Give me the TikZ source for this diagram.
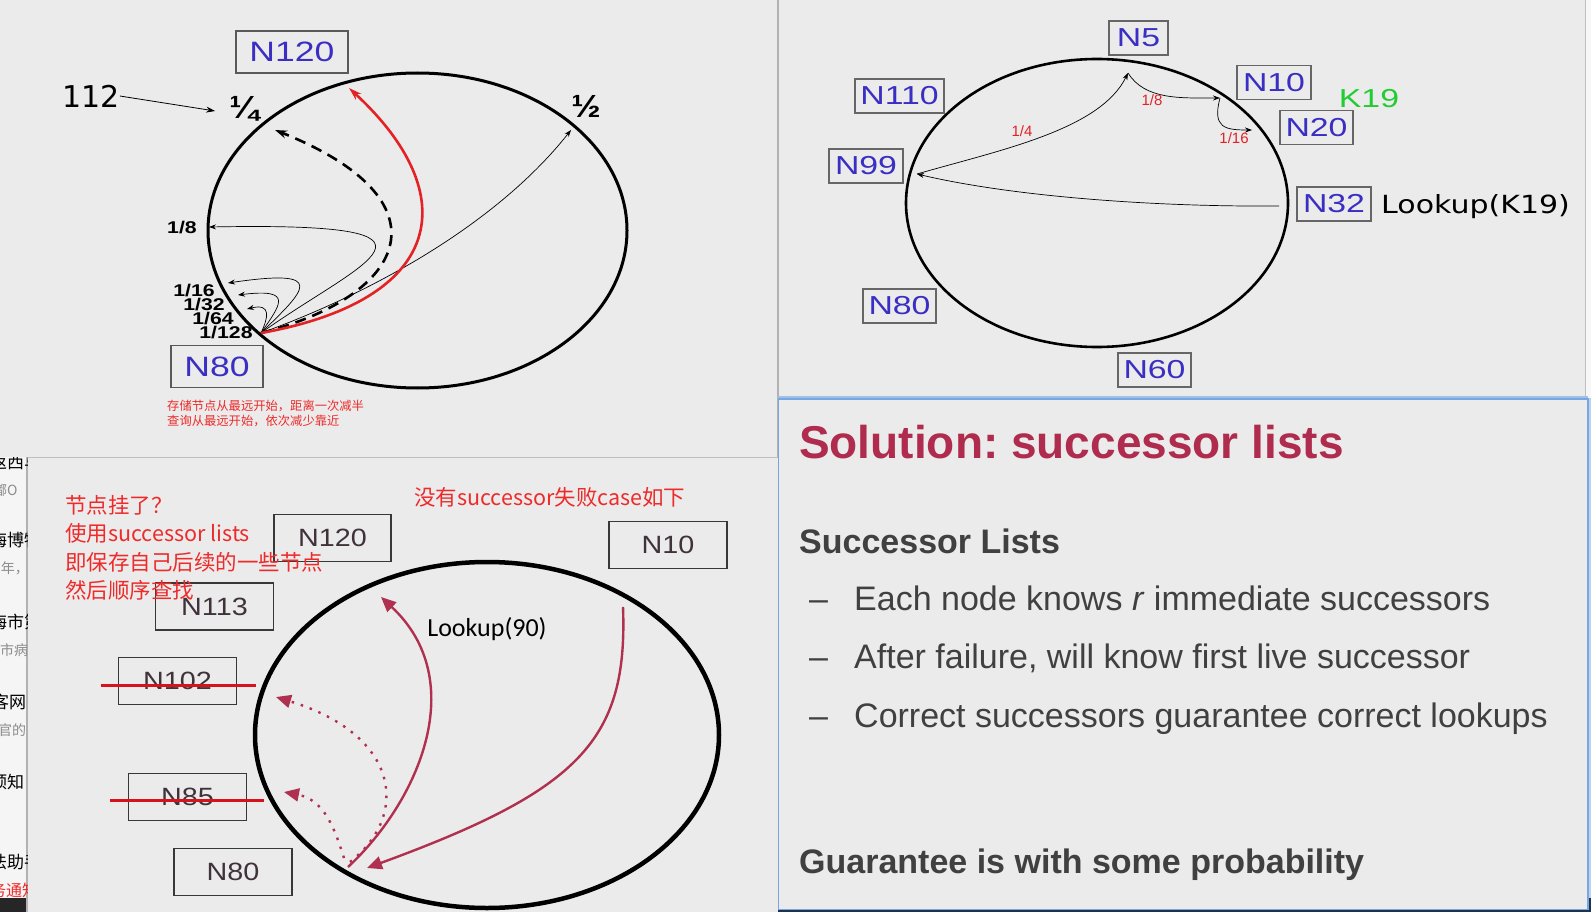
\documentclass[tikz,border=0pt]{standalone}
\usepackage{fontspec}
\usepackage{graphicx}
\setmainfont{Liberation Sans}
\newfontfamily\verdfont{DejaVu Sans}
\newfontfamily\calfont{Carlito}
\newfontfamily\cjkfont{Noto Sans CJK SC}
\usetikzlibrary{arrows.meta,calc}
\frenchspacing

\definecolor{bgray}{HTML}{EBEBEB}
\definecolor{nodeblue}{HTML}{3A2FC2}
\definecolor{nodedark}{HTML}{40323A}
\definecolor{ringred}{HTML}{E32226}
\definecolor{notered}{HTML}{EE2A2A}
\definecolor{slidered}{HTML}{B02C4E}
\definecolor{arrowred}{HTML}{B0304F}
\definecolor{slidegray}{HTML}{404040}
\definecolor{keygreen}{HTML}{22CC33}
\definecolor{strikered}{HTML}{D8121C}
\definecolor{panelblue}{HTML}{78A6E0}
\definecolor{navy}{HTML}{1E3350}

\newcommand{\wide}[2]{\scalebox{#1}[1]{#2}}
\newcommand{\fs}[1]{\fontsize{#1}{#1}\selectfont}

\tikzset{
  tlbox/.style={draw=black!65, line width=1.3pt, inner sep=0pt, minimum height=42pt, text=nodeblue, font=\fs{28}},
  trbox/.style={draw=black!60, line width=1.1pt, inner sep=0pt, minimum width=73pt, minimum height=34pt, text=nodeblue, font=\fs{26}},
  blbox/.style={draw=black!78, line width=1.6pt, inner sep=0pt, minimum width=118pt, minimum height=47pt, text=nodedark, font=\fs{25}},
  frac/.style={inner sep=0pt, font=\bfseries\fs{17}},
  hop/.style={-{Stealth[length=7pt,width=5pt]}, line width=0.7pt},
  hoplabel/.style={inner sep=0pt, text=ringred, font=\fs{15}},
  redhop/.style={-{Stealth[length=13pt,width=8pt]}, draw=ringred, line width=2.6pt},
  dashhop/.style={-{Stealth[length=12pt,width=8pt]}, line width=2.6pt, dash pattern=on 11pt off 7pt},
  succ/.style={-{Triangle[length=15pt,width=13pt]}, draw=arrowred, line width=2.4pt},
  succdot/.style={succ, dash pattern=on 2.5pt off 7pt},
  strikeout/.style={draw=strikered, line width=3pt},
  note/.style={inner sep=0pt, anchor=west, text=notered, font=\cjkfont\fs{21.5}},
  slide/.style={inner sep=0pt, anchor=base west, text=slidegray, font=\fs{34}},
  ring/.style={draw=black, line width=3pt},
  stub/.style={inner sep=0pt, anchor=west},
}

\begin{document}
\begin{tikzpicture}[x=1pt,y=-1pt]
% background and panel edges
\fill[bgray] (0,0) rectangle (1591,912);
\useasboundingbox (0,0) rectangle (1591,912);
\fill[white!96!black] (0,457) rectangle (27,898);
\fill[black!85] (0,898) rectangle (27,912);
\fill[white!97!black] (1586,0) rectangle (1591,398);
\fill[panelblue!50] (1588,398) rectangle (1591,898);
\fill[navy] (1588,898) rectangle (1591,912);
\draw[black!30, line width=1.5pt] (27,457) -- (27,912);
\draw[black!25, line width=1pt] (27,457) -- (778,457);
\draw[black!30, line width=1.2pt] (778,0) -- (778,457);
\draw[black!25] (1585.5,0) -- (1585.5,398);
\draw[panelblue!70, line width=1.5pt] (778,397) -- (1588,397);
\draw[panelblue, line width=1.2pt] (778.5,399) rectangle (1588,910);
\draw[navy, line width=2pt] (778,911) -- (1591,911);

% cut-off window text on the left
\begin{scope}
  \clip (0,457) rectangle (27,898);
  \foreach \py/\px/\pc/\pz/\pw in {462/-10/black/17/返西马, 490/-7/black!45/14/嘟O, 540/-10/black/17/海博物,
      568/-7/black!45/14/5年，, 622/-10/black/17/海市第, 650/0/black!45/14/市病, 702/-8/black/17/客网,
      730/-2/black!45/14/官的, 782/-10/black/17/预知, 862/-10/black/17/法助手, 890/-10/notered/16/务通知}
    \node[stub, text=\pc, font=\cjkfont\fs{\pz}] at (\px,\py) {\pw};
\end{scope}

% top left: finger table of N80
\draw[ring] (417.5,230.5) ellipse [x radius=209.5, y radius=157.5];
\node[tlbox, minimum width=112pt] (t120) at (292,52) {\wide{1.27}{N120}};
\node[tlbox, minimum width=92pt] (t80) at (217,366.5) {\wide{1.27}{N80}};
\node[inner sep=0pt, font=\verdfont\fs{30}] (t112) at (91,96) {112};
\node[inner sep=0pt, font=\bfseries\fs{32}] (tq) at (244,109) {\wide{1.1}{¼}};
\node[inner sep=0pt, font=\bfseries\fs{32}] (th) at (586,106) {\wide{1.1}{½}};
\node[frac] (f8) at (182,228) {\wide{1.25}{1/8}};
\node[frac] (f16) at (194,291) {\wide{1.25}{1/16}};
\node[frac] (f32) at (204,305) {\wide{1.25}{1/32}};
\node[frac] (f64) at (213,319) {\wide{1.25}{1/64}};
\node[frac] (f128) at (226,333) {\wide{1.25}{1/128}};
\coordinate (p80) at (261,333);
\coordinate (p120) at (349,88);
\coordinate (pq) at (275,130);
\coordinate (ph) at (571,130);
\coordinate (p8) at (209,227);
\coordinate (p16) at (228,283);
\coordinate (p32) at (238,295);
\coordinate (p64) at (247,309);
\draw[-{Stealth[length=9pt,width=6pt]}, line width=0.8pt] (t112.east) -- ([xshift=-14pt,yshift=-2pt]tq.west);
\draw[hop] (p80) .. controls (380,290) and (500,220) .. (ph);
\draw[hop] (p80) .. controls (360,262) and (480,222) .. (p8);
\draw[hop] (p80) .. controls (305,290) and (330,268) .. (p16);
\draw[hop] (p80) .. controls (280,305) and (295,288) .. (p32);
\draw[hop] (p80) .. controls (268,318) and (272,303) .. (p64);
\draw[dashhop] (p80) .. controls (410,295) and (450,200) .. (pq);
\draw[redhop] (p80) .. controls (445,300) and (465,195) .. (p120);
\node[inner sep=0pt, anchor=west, text=notered, font=\cjkfont\fs{12.3}] (tn1) at (167,406) {存储节点从最远开始，距离一次减半};
\node[inner sep=0pt, anchor=west, text=notered, font=\cjkfont\fs{12.3}] (tn2) at (167,421) {查询从最远开始，依次减少靠近};

% top right: lookup of K19 from N32
\draw[ring, line width=2.6pt] (1097,203) ellipse [x radius=191, y radius=144];
\node[trbox, minimum width=59pt] (r5) at (1138.5,38) {\wide{1.3}{N5}};
\node[trbox, minimum width=89pt] (r110) at (899.5,96) {\wide{1.3}{N110}};
\node[trbox, minimum width=74pt] (r10) at (1274,82.5) {\wide{1.3}{N10}};
\node[inner sep=0pt, text=keygreen, font=\fs{26}] (k19) at (1369,99) {\wide{1.3}{K19}};
\node[trbox] (r20) at (1316.5,127.5) {\wide{1.3}{N20}};
\node[trbox, minimum width=74pt] (r99) at (866,166) {\wide{1.3}{N99}};
\node[trbox, minimum width=74pt] (r32) at (1334,204) {\wide{1.3}{N32}};
\node[inner sep=0pt, anchor=west, font=\verdfont\fs{25}] (look) at (1381,207) {\wide{1.2}{Lookup(K19)}};
\node[trbox] (r80) at (899.5,306) {\wide{1.3}{N80}};
\node[trbox] (r60) at (1154.5,370) {\wide{1.3}{N60}};
\coordinate (q32) at (1279,206);
\coordinate (q99) at (917,174);
\coordinate (q5) at (1128,73);
\coordinate (q10) at (1220,98);
\coordinate (q20) at (1252,130);
\draw[hop] (q32) .. controls (1150,207) and (1010,196) .. (q99);
\draw[hop] (q99) .. controls (1000,150) and (1100,130) .. (q5);
\draw[hop] (q5) .. controls (1145,100) and (1180,98) .. (q10);
\draw[hop] (q10) .. controls (1212,128) and (1225,130) .. (q20);
\node[hoplabel] (l4) at (1022,131) {1/4};
\node[hoplabel] (l8) at (1152,100) {1/8};
\node[hoplabel] (l16) at (1234,138) {1/16};

% bottom left: failed nodes
\draw[ring, line width=4.5pt] (487,735) ellipse [x radius=232, y radius=173];
\node[blbox, minimum width=117pt] (b120n) at (332.5,538) {\wide{1.15}{N120}};
\node[blbox] (b10n) at (668,545) {\wide{1.15}{N10}};
\node[blbox] (b113n) at (214.5,606.5) {\wide{1.15}{N113}};
\node[blbox] (b102n) at (177.5,681) {\wide{1.15}{N102}};
\node[blbox] (b85n) at (187.5,797) {\wide{1.15}{N85}};
\node[blbox] (b80n) at (233,872) {\wide{1.15}{N80}};
\draw[strikeout] ($(b102n.west)+(-17,4)$) -- ($(b102n.east)+(19,4)$);
\draw[strikeout] ($(b85n.west)+(-18,3)$) -- ($(b85n.east)+(17,3)$);
\node[inner sep=0pt, font=\calfont\fs{26}] (look90) at (487,629) {Lookup(90)};
\coordinate (b80) at (348,867);
\coordinate (b80a) at (350,862);
\coordinate (b80b) at (344,858);
\coordinate (b113) at (381,597);
\coordinate (b102) at (276,697);
\coordinate (b85) at (284,792);
\coordinate (b10) at (623,607);
\coordinate (b80in) at (367,868);
\draw[succ] (b80) .. controls (420,800) and (470,680) .. (b113);
\draw[succdot] (b80a) .. controls (410,815) and (400,735) .. (b102);
\draw[succdot] (b80b) .. controls (335,830) and (325,800) .. (b85);
\draw[succ] (b10) .. controls (628,740) and (580,790) .. (b80in);
\node[note] (q1) at (65,505) {节点挂了？};
\node[note] (q2) at (65,533) {使用successor lists};
\node[note] (q3) at (65,562) {即保存自己后续的一些节点};
\node[note] (q4) at (65,590) {然后顺序查找};
\node[note] (q5n) at (414,497) {没有successor失败case如下};

% bottom right: slide text
\node[slide, text=slidered, font=\bfseries\fs{46}] (title) at (799,458) {Solution: successor lists};
\node[slide, font=\bfseries\fs{34}] (sub) at (799,553) {Successor Lists};
\foreach \by/\bt in {610/{Each node knows \textit{r} immediate successors}, 668/{After failure, will know first live successor}, 727/{Correct successors guarantee correct lookups}} {
  \node[slide] at (809,\by) {–};
  \node[slide] at (854,\by) {\bt};
}
\node[slide, font=\bfseries\fs{34}] (guar) at (799,873) {Guarantee is with some probability};
\end{tikzpicture}
\end{document}
